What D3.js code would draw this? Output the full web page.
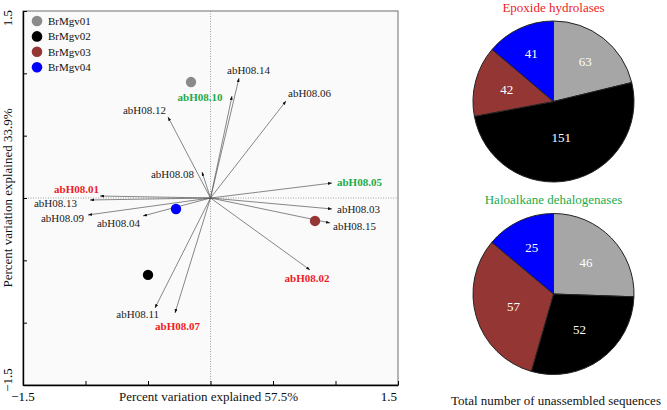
<!DOCTYPE html>
<html>
<head>
<meta charset="utf-8">
<script src="https://cdn.jsdelivr.net/npm/d3@7"></script>
<style>
  html, body { margin: 0; padding: 0; background: #ffffff; }
  svg { display: block; font-family: "Liberation Serif", "Times New Roman", serif; }
</style>
</head>
<body>
<svg id="chart" width="667" height="410"></svg>
<script>
// ---------------- data ----------------
const groups = ["BrMgv01", "BrMgv02", "BrMgv03", "BrMgv04"];
const sampleX = [-0.156, -0.50, 0.836, -0.276];
const sampleY = [0.930, -0.617, -0.184, -0.088];

const variables = ["abH08.01","abH08.02","abH08.03","abH08.04","abH08.05","abH08.06","abH08.07","abH08.08",
                   "abH08.09","abH08.10","abH08.11","abH08.12","abH08.13","abH08.14","abH08.15"];
const loadX = [-0.884, 0.796, 0.972, -0.540, 0.972, 0.604, -0.284, -0.068, -0.980, 0.172, -0.444, -0.340, -0.964, 0.228, 0.956];
const loadY = [0.016, -0.577, -0.088, -0.144, 0.120, 0.778, -0.922, 0.209, -0.136, 0.818, -0.882, 0.650, -0.016, 0.962, -0.200];

const xTicks = [-1.5, -1, -0.5, 0, 0.5, 1, 1.5];
const yTicks = [-1.5, -1, -0.5, 0, 0.5, 1, 1.5];
const xTickLabels = ["-1.5", "1.5"];
const yTickLabels = ["-1.5", "1.5"];
const xTitle = "Percent variation explained 57.5%";
const yTitle = "Percent variation explained 33.9%";

const pieTitles = ["Epoxide hydrolases", "Haloalkane dehalogenases"];
const epoxideValues = [63, 151, 42, 41];
const haloValues = [46, 52, 57, 25];
const pieFooter = "Total number of unassembled sequences";

// ---------------- styles / layout ----------------
const pointColors = ["#8a8a8a", "#000000", "#943634", "#0000ff"];
const pieColors = ["#a6a6a6", "#000000", "#943634", "#0000ff"];
const highlight = { "abH08.01": "#ee1c25", "abH08.02": "#ee1c25", "abH08.07": "#ee1c25",
                    "abH08.05": "#1bab4b", "abH08.10": "#1bab4b" };
// label offsets from arrow tip: [dx, dy, anchor]
const labelLayout = {
  "abH08.01": [-1, -3, "end"], "abH08.02": [-3, 12, "middle"], "abH08.03": [5, 4, "start"],
  "abH08.04": [-3, 11, "end"], "abH08.05": [5, 3, "start"], "abH08.06": [2, -4, "start"],
  "abH08.07": [2.5, 17, "middle"], "abH08.08": [-8, 6, "end"], "abH08.09": [-4, 7, "end"],
  "abH08.10": [-32, 5, "middle"], "abH08.11": [4, 10, "end"], "abH08.12": [-2, -3, "end"],
  "abH08.13": [-13, 7, "end"], "abH08.14": [-12, -4, "start"], "abH08.15": [3, 7, "start"]
};
const pieLabelFrac = [[0.64, 0.46, 0.60, 0.66], [0.56, 0.55, 0.52, 0.64]];

const svg = d3.select("#chart");
const x = d3.scaleLinear().domain([-1.5, 1.5]).range([23, 398]);
const y = d3.scaleLinear().domain([-1.5, 1.5]).range([385, 11]);

// plot background + frame
svg.append("rect").attr("x", x(-1.5)).attr("y", y(1.5))
  .attr("width", x(1.5) - x(-1.5)).attr("height", y(-1.5) - y(1.5))
  .attr("fill", "#fafafa").attr("stroke", "#6e6e6e").attr("stroke-width", 1);

// zero reference lines (dotted)
svg.append("line").attr("x1", x(0)).attr("x2", x(0)).attr("y1", y(1.5)).attr("y2", y(-1.5))
  .attr("stroke", "#8c8c8c").attr("stroke-width", 0.8).attr("stroke-dasharray", "1,1.5");
svg.append("line").attr("y1", y(0)).attr("y2", y(0)).attr("x1", x(-1.5)).attr("x2", x(1.5))
  .attr("stroke", "#8c8c8c").attr("stroke-width", 0.8).attr("stroke-dasharray", "1,1.5");

// axes with inward ticks
const gx = svg.append("g").attr("transform", `translate(0,${y(-1.5)})`)
  .call(d3.axisBottom(x).tickValues(xTicks).tickSizeInner(-4).tickSizeOuter(0).tickFormat(""));
const gy = svg.append("g").attr("transform", `translate(${x(-1.5)},0)`)
  .call(d3.axisLeft(y).tickValues(yTicks).tickSizeInner(-4).tickSizeOuter(0).tickFormat(""));
[gx, gy].forEach(g => {
  g.select(".domain").attr("stroke", "#000").attr("stroke-width", 1.4);
  g.selectAll(".tick line").attr("stroke", "#000").attr("stroke-width", 1);
});

// tick labels at the ends
svg.append("text").attr("x", x(-1.5)).attr("y", 401).attr("text-anchor", "middle")
  .attr("font-size", 13).text(xTickLabels[0].replace("-", "\u2212"));
svg.append("text").attr("x", x(1.5) - 1).attr("y", 401).attr("text-anchor", "end")
  .attr("font-size", 13).text(xTickLabels[1]);
svg.append("text").attr("transform", `translate(12,${y(1.5) - 1}) rotate(-90)`).attr("text-anchor", "end")
  .attr("font-size", 13).text(yTickLabels[1]);
svg.append("text").attr("transform", `translate(12,${y(-1.5) - 5}) rotate(-90)`).attr("text-anchor", "middle")
  .attr("font-size", 13).text(yTickLabels[0].replace("-", "\u2212"));

// axis titles
svg.append("text").attr("x", (x(-1.5) + x(1.5)) / 2 - 2).attr("y", 401).attr("text-anchor", "middle")
  .attr("font-size", 13).attr("fill", "#111").text(xTitle);
svg.append("text").attr("transform", `translate(12,${y(0)}) rotate(-90)`).attr("text-anchor", "middle")
  .attr("font-size", 13).attr("fill", "#111").text(yTitle);

// arrowhead marker
svg.append("defs").append("marker").attr("id", "arrow")
  .attr("viewBox", "0 -3 8 6").attr("refX", 8).attr("refY", 0)
  .attr("markerUnits", "userSpaceOnUse").attr("markerWidth", 4).attr("markerHeight", 3)
  .attr("orient", "auto")
  .append("path").attr("d", "M0,-3L8,0L0,3Z").attr("fill", "#111");

// loading vectors
const loadings = variables.map((v, i) => ({ name: v, lx: loadX[i], ly: loadY[i] }));
svg.append("g").selectAll("line").data(loadings).join("line")
  .attr("x1", x(0)).attr("y1", y(0))
  .attr("x2", d => x(d.lx)).attr("y2", d => y(d.ly))
  .attr("stroke", "#555").attr("stroke-width", 0.7)
  .attr("marker-end", "url(#arrow)");

svg.append("g").selectAll("text").data(loadings).join("text")
  .attr("x", d => x(d.lx) + labelLayout[d.name][0])
  .attr("y", d => y(d.ly) + labelLayout[d.name][1])
  .attr("text-anchor", d => labelLayout[d.name][2])
  .attr("font-size", 11)
  .attr("font-weight", d => highlight[d.name] ? "bold" : "normal")
  .attr("fill", d => highlight[d.name] || "#1a1a1a")
  .text(d => d.name);

// sample points
svg.append("g").selectAll("circle").data(groups).join("circle")
  .attr("cx", (d, i) => x(sampleX[i])).attr("cy", (d, i) => y(sampleY[i]))
  .attr("r", 5.2).attr("fill", (d, i) => pointColors[i]);

// legend
const leg = svg.append("g");
groups.forEach((g, i) => {
  leg.append("circle").attr("cx", 37).attr("cy", 21 + i * 15.4).attr("r", 5.3).attr("fill", pointColors[i]);
  leg.append("text").attr("x", 48).attr("y", 25 + i * 15.4).attr("font-size", 11).attr("fill", "#111").text(g);
});

// pies
const pie = d3.pie().sort(null).value(d => d);
const R = 80.5;
const arc = d3.arc().innerRadius(0).outerRadius(R);
const pieCenters = [[553.5, 101.5], [553.5, 294]];
const pieTitleColors = ["#ee1c25", "#1bab4b"];
[epoxideValues, haloValues].forEach((vals, k) => {
  const [cx, cy] = pieCenters[k];
  const g = svg.append("g").attr("transform", `translate(${cx},${cy})`);
  const arcs = pie(vals);
  g.selectAll("path").data(arcs).join("path")
    .attr("d", arc).attr("fill", (d, i) => pieColors[i])
    .attr("stroke", "#222").attr("stroke-width", 1);
  g.selectAll("text").data(arcs).join("text")
    .attr("transform", (d, i) => {
      const a = (d.startAngle + d.endAngle) / 2;
      const r = R * pieLabelFrac[k][i];
      return `translate(${r * Math.sin(a)},${-r * Math.cos(a) + 4.5})`;
    })
    .attr("text-anchor", "middle").attr("font-size", 13).attr("fill", "#fff")
    .text(d => d.data);
  svg.append("text").attr("x", cx).attr("y", cy - R - 9.5).attr("text-anchor", "middle")
    .attr("font-size", 13).attr("fill", pieTitleColors[k]).text(pieTitles[k]);
});
svg.append("text").attr("x", 556).attr("y", 405).attr("text-anchor", "middle")
  .attr("font-size", 13).attr("fill", "#111").text(pieFooter);
</script>
</body>
</html>
